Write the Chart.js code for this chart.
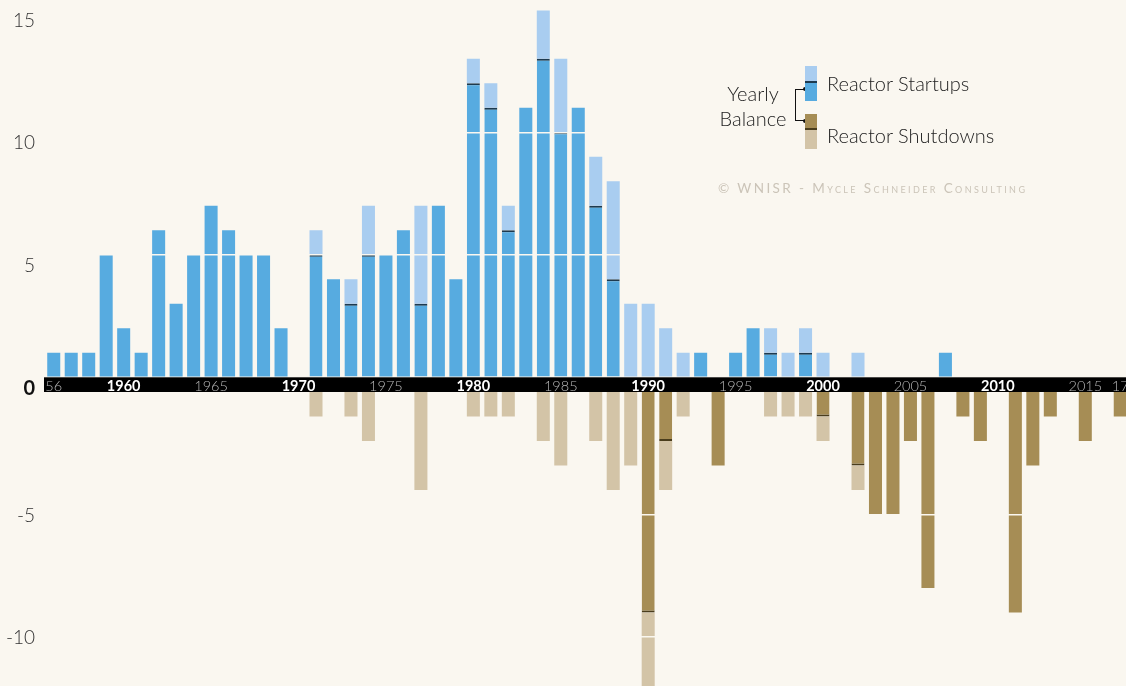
<!DOCTYPE html>
<html lang="en">
<head>
<meta charset="UTF-8">
<title>Reactor Startups and Shutdowns</title>
<script src="https://cdn.jsdelivr.net/npm/chart.js"></script>
<style>
    html, body { margin: 0; padding: 0; background: #faf7f0; overflow: hidden; }
    body { width: 1126px; height: 686px; position: relative; font-family: Lato, "Open Sans", sans-serif; }
    #wrap { position: absolute; left: 0; top: 0; width: 1129px; height: 686px; }
    .txt { position: absolute; white-space: nowrap; color: #222; font-size: 20px; line-height: 24px; font-weight: 300; }
    .sw { position: absolute; left: 805px; width: 12px; }
    .ln { position: absolute; background: #111; }
    .dot { position: absolute; width: 4px; height: 4px; border-radius: 50%; background: #111; }
    #credit { position: absolute; left: 718px; top: 180px; font-size: 13.5px; line-height: 16px;
              font-variant: small-caps; letter-spacing: 2.4px; color: #cbc4b8; white-space: nowrap; }
</style>
</head>
<body>
<div id="wrap"><canvas id="chart" width="1129" height="686"></canvas></div>

<!-- legend -->
<div class="txt" style="left:713px; top:81px; width:80px; text-align:center;">Yearly</div>
<div class="txt" style="left:713px; top:106px; width:80px; text-align:center;">Balance</div>
<div class="ln" style="left:795px; top:89px; width:1.3px; height:32px;"></div>
<div class="ln" style="left:795px; top:88.5px; width:10px; height:1.3px;"></div>
<div class="ln" style="left:795px; top:120px; width:10px; height:1.3px;"></div>
<div class="dot" style="left:803px; top:87px;"></div>
<div class="dot" style="left:803px; top:119px;"></div>
<div class="sw" style="top:66px; height:15px; background:#a9cdf0;"></div>
<div class="sw" style="top:81px; height:1.5px; background:#1d3a4f;"></div>
<div class="sw" style="top:82.5px; height:18.5px; background:#57abe0;"></div>
<div class="sw" style="top:114px; height:14px; background:#a68d55;"></div>
<div class="sw" style="top:128px; height:1.5px; background:#4a3d1c;"></div>
<div class="sw" style="top:129.5px; height:19.5px; background:#d3c4a7;"></div>
<div class="txt" style="left:827px; top:71px;">Reactor Startups</div>
<div class="txt" style="left:827px; top:123px;">Reactor Shutdowns</div>
<div id="credit">© WNISR - Mycle Schneider Consulting</div>

<script>
    // reactors connected to / disconnected from the grid per year
    const years = Array.from({ length: 62 }, (_, i) => 1956 + i);
    const startups = [
        1, 1, 1, 5, 2, 1, 6, 3, 5, 7, 6, 5, 5, 2, 0,
        6, 4, 4, 7, 5, 6, 7, 7, 4,
        13, 12, 7, 11, 15, 13, 11, 9, 8, 3,
        3, 2, 1, 1, 0, 1, 2, 2, 1, 2,
        1, 0, 1, 0, 0, 0, 0, 1, 0, 0,
        0, 0, 0, 0, 0, 0, 0, 0
    ];
    const shutdowns = [
        0, 0, 0, 0, 0, 0, 0, 0, 0, 0, 0, 0, 0, 0, 0,
        1, 0, 1, 2, 0, 0, 4, 0, 0,
        1, 1, 1, 0, 2, 3, 0, 2, 4, 3,
        12, 4, 1, 0, 3, 0, 0, 1, 1, 1,
        2, 0, 4, 5, 5, 2, 8, 0, 1, 2,
        0, 9, 3, 1, 0, 2, 0, 1
    ];
    const upTicks = [0, 5, 10, 15];
    const downTicks = [-10, -5];

    const BG = '#faf7f0';
    const BAND = 0.6;   // height of the black year strip, in value units
    const FONT = 'Lato, "Open Sans", sans-serif';

    // split each year into the net balance part and the remainder
    const balanceUp = startups.map((s, i) => Math.max(0, s - shutdowns[i]));
    const extraUp = startups.map((s, i) => s - balanceUp[i]);
    const balanceDown = shutdowns.map((d, i) => -Math.max(0, d - startups[i]));
    const extraDown = shutdowns.map((d, i) => -d - balanceDown[i]);

    const barOpts = { grouped: false, barPercentage: 0.745, categoryPercentage: 1, borderSkipped: false };

    const isZero = c => !!(c && c.tick && c.tick.value === 0);
    const isDecade = c => !!(c && c.index !== undefined && years[c.index] % 10 === 0);

    // black strip behind the year labels
    const bandPlugin = {
        id: 'band',
        afterDatasetsDraw(chart) {
            const { ctx, chartArea, scales } = chart;
            const top = scales.yDown.getPixelForValue(BAND);
            const bottom = scales.yDown.getPixelForValue(0);
            ctx.save();
            ctx.fillStyle = '#000';
            ctx.fillRect(chartArea.left - 1, top, chartArea.right - chartArea.left + 1, bottom - top);
            ctx.restore();
        }
    };

    new Chart(document.getElementById('chart'), {
        type: 'bar',
        data: {
            labels: years,
            datasets: [
                {
                    ...barOpts, label: 'Startups (balance)', data: balanceUp, yAxisID: 'yUp',
                    backgroundColor: '#57abe0', borderColor: '#1d3a4f',
                    borderWidth: c => (extraUp[c.dataIndex] > 0 && balanceUp[c.dataIndex] > 0)
                        ? { top: 2, bottom: 0, left: 0, right: 0 } : 0
                },
                {
                    ...barOpts, label: 'Startups', data: extraUp, yAxisID: 'yUp',
                    backgroundColor: '#a9cdf0', borderWidth: 0
                },
                {
                    ...barOpts, label: 'Shutdowns (balance)', data: balanceDown, yAxisID: 'yDown',
                    backgroundColor: '#a68d55', borderColor: '#4a3d1c',
                    borderWidth: c => (extraDown[c.dataIndex] < 0 && balanceDown[c.dataIndex] < 0)
                        ? { top: 0, bottom: 2, left: 0, right: 0 } : 0
                },
                {
                    ...barOpts, label: 'Shutdowns', data: extraDown, yAxisID: 'yDown',
                    backgroundColor: '#d3c4a7', borderWidth: 0
                }
            ]
        },
        options: {
            responsive: false,
            animation: false,
            layout: { padding: 0 },
            plugins: { legend: { display: false }, tooltip: { enabled: false } },
            scales: {
                x: {
                    type: 'category',
                    position: { yDown: BAND },
                    offset: true,
                    grid: { display: false, drawTicks: false },
                    border: { display: false },
                    ticks: {
                        z: 2,
                        autoSkip: false,
                        maxRotation: 0,
                        padding: 0,
                        callback: (v, i) => {
                            const y = years[i];
                            if (i === 0 || i === years.length - 1) return String(y).slice(2);
                            return y % 5 === 0 ? String(y) : '';
                        },
                        color: c => isDecade(c) ? '#ffffff' : '#b8b8b8',
                        font: c => ({ family: FONT, size: 14.5, weight: isDecade(c) ? 'bold' : '300' })
                    },
                    afterFit: s => { s.paddingLeft = 0; s.paddingRight = 0; }
                },
                // listed first so that it ends up below yUp in the shared left stack
                yDown: {
                    type: 'linear',
                    position: 'left',
                    stack: 'v',
                    stackWeight: 12.6,
                    min: -12,
                    max: BAND,
                    stacked: true,
                    afterBuildTicks: s => { s.ticks = downTicks.map(v => ({ value: v })); },
                    grid: { color: BG, lineWidth: 1.5, drawTicks: false, z: 1 },
                    border: { display: false },
                    ticks: {
                        padding: 10,
                        labelOffset: 1,
                        color: '#333',
                        font: { family: FONT, size: 19, weight: '300' }
                    },
                    afterFit: s => { s.width = 45; s.paddingTop = 0; s.paddingBottom = 0; }
                },
                yUp: {
                    type: 'linear',
                    position: 'left',
                    stack: 'v',
                    stackWeight: 15.4,
                    min: 0,
                    max: 15.4,
                    stacked: true,
                    afterBuildTicks: s => { s.ticks = upTicks.map(v => ({ value: v })); },
                    grid: {
                        color: c => isZero(c) ? 'rgba(0,0,0,0)' : BG,
                        lineWidth: 1.5,
                        drawTicks: false,
                        z: 1
                    },
                    border: { display: false },
                    ticks: {
                        padding: 10,
                        labelOffset: 11,
                        color: c => isZero(c) ? '#111' : '#333',
                        font: c => isZero(c)
                            ? { family: FONT, size: 20, weight: 'bold' }
                            : { family: FONT, size: 19, weight: '300' }
                    },
                    afterFit: s => { s.width = 45; s.paddingTop = 0; s.paddingBottom = 0; }
                }
            }
        },
        plugins: [bandPlugin]
    });
</script>
</body>
</html>
